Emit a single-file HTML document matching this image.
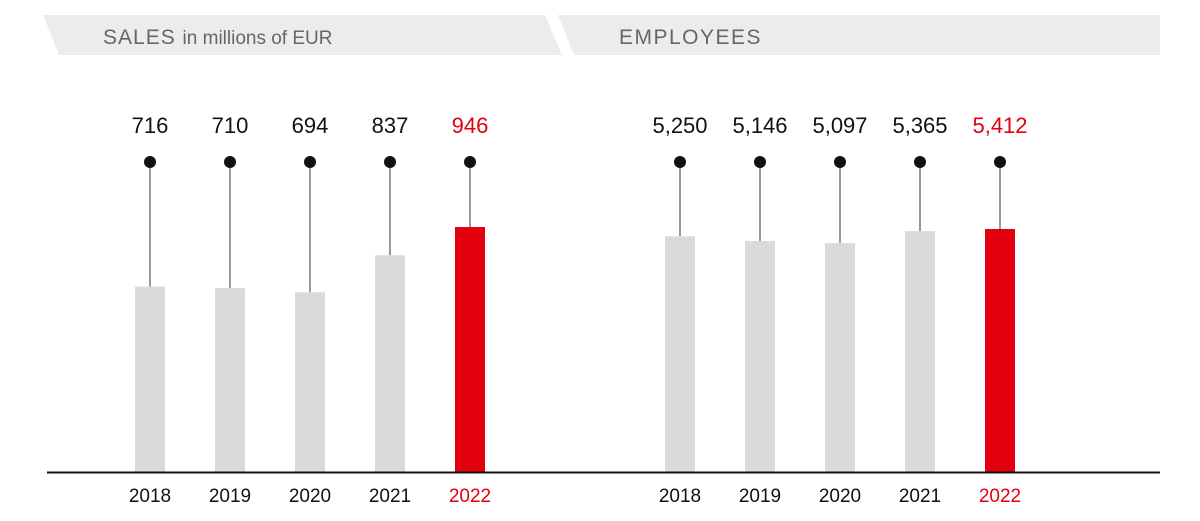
<!DOCTYPE html>
<html><head><meta charset="utf-8"><style>
body{margin:0;background:#fff;width:1200px;height:521px;overflow:hidden}
svg{display:block;font-family:"Liberation Sans",sans-serif}
</style></head><body>
<svg id="c" width="1200" height="521" viewBox="0 0 1200 521">
<polygon points="43,15 545,15 562,55 59,55" fill="#ececec"/>
<polygon points="558,15 1160,15 1160,55 574,55" fill="#ececec"/>
<text x="103" y="44" font-size="21" fill="#666" letter-spacing="1">SALES <tspan font-size="19" letter-spacing="0">in millions of EUR</tspan></text>
<text x="619" y="44" font-size="21" fill="#666" letter-spacing="1.5">EMPLOYEES</text>
<g id="marks"></g>
<line x1="47" y1="472.5" x2="1160" y2="472.5" stroke="#111" stroke-width="2"/>
</svg>
<script>
const years = ["2018","2019","2020","2021","2022"];
const salesValues = [716,710,694,837,946];
const salesLabels = ["716","710","694","837","946"];
const employeeValues = [5250,5146,5097,5365,5412];
const employeeLabels = ["5,250","5,146","5,097","5,365","5,412"];
const NS="http://www.w3.org/2000/svg";
const g=document.getElementById('marks');
const base=472;
function mk(t,a){const e=document.createElementNS(NS,t);for(const k in a)e.setAttribute(k,a[k]);g.appendChild(e);return e;}
function panel(vals,labels,x0,scale,prefix){
  vals.forEach((v,i)=>{
    const cx=x0+i*80, h=v*scale, last=i===vals.length-1;
    const col=last?"#e2000f":"#dadada", tc=last?"#e2000f":"#111";
    const ln=mk('line',{x1:cx,y1:162,x2:cx,y2:base-h,stroke:'#333','stroke-width':1});
    
    
    const b=mk('rect',{x:cx-15,y:base-h,width:30,height:h,fill:col});
    
    
    const d=mk('circle',{cx:cx,cy:162,r:6,fill:'#111'});
    
    
    const t=mk('text',{x:cx,y:133,'text-anchor':'middle','font-size':22,fill:tc});
    t.textContent=labels[i];
    
    
    const y=mk('text',{x:cx,y:502,'text-anchor':'middle','font-size':19,fill:tc});
    y.textContent=years[i];
    
    
  });
}
panel(salesValues,salesLabels,150,245/946,'sales');
panel(employeeValues,employeeLabels,680,243/5412,'employees');
</script>
</body></html>
